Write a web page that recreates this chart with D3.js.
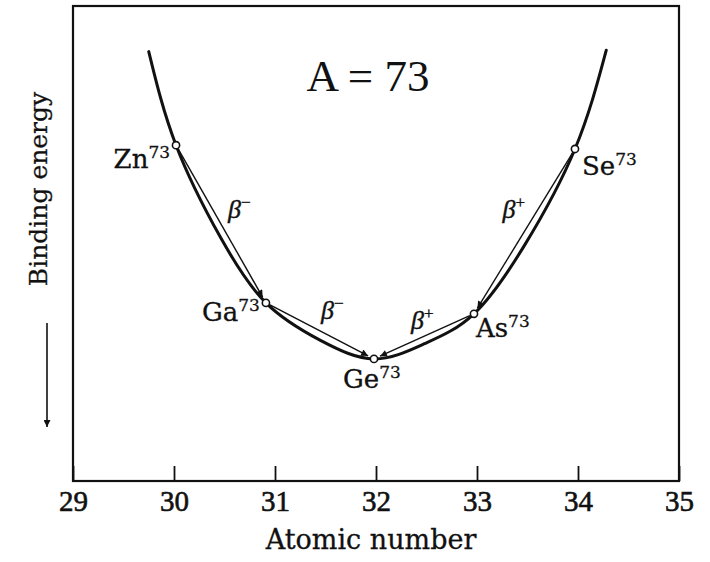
<!DOCTYPE html>
<html>
<head>
<meta charset="utf-8">
<script src="https://cdn.jsdelivr.net/npm/d3@7"></script>
<style>
  html, body { margin: 0; padding: 0; background: #fff; }
  svg { display: block; }
</style>
</head>
<body>
<script>
// Isobars with mass number A = 73 on the binding-energy valley
const massNumber = 73;
const nuclides = ["Zn", "Ga", "Ge", "As", "Se"];
const atomicNumbers = [30, 31, 32, 33, 34];
// where each nuclide sits along the atomic-number axis as plotted
const zPosition = [30.02, 30.91, 31.98, 32.97, 33.97];
// relative binding energy (increasing downward, arbitrary units)
const bindingEnergy = [29.3, 62.5, 74.3, 64.8, 30.1];

// decays: source index -> target index, with decay mode
const decaySource = [0, 1, 4, 3];
const decayTarget = [1, 2, 3, 2];
const decaySign = ["\u2212", "\u2212", "+", "+"];

// the valley curve, sampled along its length
const curveZ = [29.75, 30.02, 30.46, 30.91, 31.45, 31.98, 32.48, 32.97, 33.47, 33.97, 34.28];
const curveE = [9.6, 29.3, 48.7, 62.5, 70.4, 74.3, 71.1, 64.8, 50.4, 30.1, 9.3];

// axis
const zDomain = [29, 35];
const zTicks = [29, 30, 31, 32, 33, 34, 35];
const energyDomain = [0, 100];

const W = 710, H = 562;
const svg = d3.select("body").append("svg").attr("width", W).attr("height", H);

const x = d3.scaleLinear().domain(zDomain).range([73, 679]);
const y = d3.scaleLinear().domain(energyDomain).range([6, 481]);

const serif = "'DejaVu Serif', serif";
const times = "'Liberation Serif', 'Times New Roman', serif";
const ink = "#111";

// frame
svg.append("rect")
  .attr("x", x(zDomain[0])).attr("y", y(energyDomain[0]))
  .attr("width", x(zDomain[1]) - x(zDomain[0]))
  .attr("height", y(energyDomain[1]) - y(energyDomain[0]))
  .attr("fill", "none").attr("stroke", ink).attr("stroke-width", 2.2);

// x axis: inward ticks, labels below
const xAxis = svg.append("g")
  .attr("transform", `translate(0,${y(energyDomain[1])})`)
  .call(d3.axisBottom(x).tickValues(zTicks).tickFormat(d3.format("d"))
    .tickSizeInner(-15).tickSizeOuter(0).tickPadding(9));
xAxis.select(".domain").remove();
xAxis.selectAll(".tick line").attr("stroke", ink).attr("stroke-width", 1.8);
xAxis.selectAll(".tick text")
  .attr("fill", ink).attr("stroke", ink).attr("stroke-width", 0.6)
  .style("font-family", times).style("font-size", "29px");

svg.append("text")
  .attr("x", (x(zDomain[0]) + x(zDomain[1])) / 2 - 5).attr("y", 549)
  .attr("text-anchor", "middle")
  .attr("stroke", ink).attr("stroke-width", 0.3)
  .style("font-family", serif).style("font-size", "27px").attr("fill", ink)
  .text("Atomic number");

// y label with downward arrow
svg.append("text")
  .attr("transform", "translate(47,189) rotate(-90)")
  .attr("text-anchor", "middle")
  .attr("stroke", ink).attr("stroke-width", 0.3)
  .style("font-family", serif).style("font-size", "25px").attr("fill", ink)
  .text("Binding energy");

const defs = svg.append("defs");
defs.append("marker")
  .attr("id", "head").attr("viewBox", "0 -5 10 10")
  .attr("refX", 10).attr("refY", 0)
  .attr("markerUnits", "userSpaceOnUse")
  .attr("markerWidth", 15).attr("markerHeight", 7)
  .attr("orient", "auto")
  .append("path").attr("d", "M0,-5L10,0L0,5Z").attr("fill", ink);

svg.append("line")
  .attr("x1", 47).attr("y1", 323).attr("x2", 47).attr("y2", 427)
  .attr("stroke", ink).attr("stroke-width", 1.6)
  .attr("marker-end", "url(#head)");

// title
svg.append("text")
  .attr("x", 368).attr("y", 91).attr("text-anchor", "middle")
  .style("font-family", times).style("font-size", "45px").attr("fill", ink)
  .text(`A = ${massNumber}`);

// valley curve
const curvePts = curveZ.map((z, i) => [x(z), y(curveE[i])]);
svg.append("path")
  .attr("d", d3.line().curve(d3.curveNatural)(curvePts))
  .attr("fill", "none").attr("stroke", ink).attr("stroke-width", 3)
  .attr("stroke-linecap", "round");

const pts = zPosition.map((z, i) => ({ x: x(z), y: y(bindingEnergy[i]) }));
const r = 3.6;

// decay arrows along the chords
decaySource.forEach((s, k) => {
  const a = pts[s], b = pts[decayTarget[k]];
  const dx = b.x - a.x, dy = b.y - a.y, len = Math.hypot(dx, dy);
  const ux = dx / len, uy = dy / len;
  svg.append("line")
    .attr("x1", a.x + ux * (r + 1)).attr("y1", a.y + uy * (r + 1))
    .attr("x2", b.x - ux * (r + 3)).attr("y2", b.y - uy * (r + 3))
    .attr("stroke", ink).attr("stroke-width", 1.4)
    .attr("marker-end", "url(#head)");
});

// decay-mode labels, placed beside each chord's midpoint
const betaOffset = [[7, -6], [1, -12], [-22, -13], [-13, -7]];
decaySource.forEach((s, k) => {
  const a = pts[s], b = pts[decayTarget[k]];
  const mx = (a.x + b.x) / 2, my = (a.y + b.y) / 2;
  const t = svg.append("text")
    .attr("x", mx + betaOffset[k][0]).attr("y", my + betaOffset[k][1])
    .attr("stroke", ink).attr("stroke-width", 0.4)
    .style("font-family", times).style("font-style", "italic")
    .style("font-size", "26px").attr("fill", ink);
  t.append("tspan").text("\u03b2");
  t.append("tspan").attr("dy", -10).style("font-size", "17px")
    .style("font-style", "normal").text(decaySign[k]);
});

// nuclide points
svg.selectAll("circle.nuc").data(pts).join("circle")
  .attr("class", "nuc")
  .attr("cx", d => d.x).attr("cy", d => d.y).attr("r", r)
  .attr("fill", "#fff").attr("stroke", ink).attr("stroke-width", 1.6);

// nuclide labels
const labelOffset = [[-6, 23, "end"], [-6, 18, "end"], [-2, 29, "middle"], [2, 23, "start"], [7, 26, "start"]];
nuclides.forEach((n, i) => {
  const t = svg.append("text")
    .attr("x", pts[i].x + labelOffset[i][0]).attr("y", pts[i].y + labelOffset[i][1])
    .attr("text-anchor", labelOffset[i][2])
    .attr("stroke", ink).attr("stroke-width", 0.3)
    .style("font-family", serif).style("font-size", "26px").attr("fill", ink);
  t.append("tspan").text(n);
  t.append("tspan").attr("dy", -10).style("font-size", "17px").text(massNumber);
});
</script>
</body>
</html>
